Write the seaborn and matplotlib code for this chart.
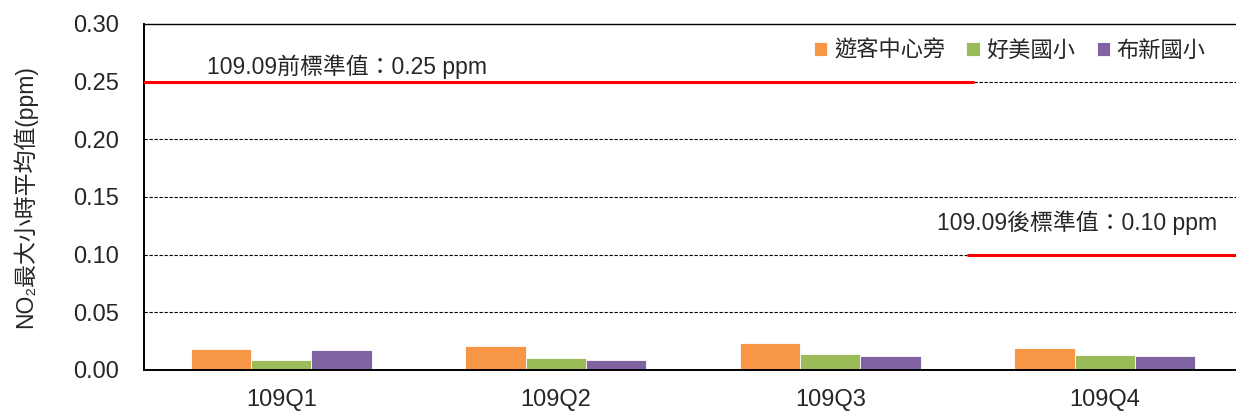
import numpy as np
import pandas as pd
import seaborn as sns
import matplotlib.pyplot as plt

quarters = ["109Q1", "109Q2", "109Q3", "109Q4"]
stations = ["遊客中心旁", "好美國小", "布新國小"]
visitor_center = [0.018, 0.021, 0.023, 0.019]
haomei = [0.009, 0.010, 0.014, 0.013]
buxin = [0.017, 0.009, 0.012, 0.012]
old_standard = 0.25
new_standard = 0.10

colors = ["#F79646", "#9BBB59", "#8064A2"]

df = pd.DataFrame({
    "quarter": quarters * 3,
    "station": [s for s in stations for _ in quarters],
    "value": visitor_center + haomei + buxin,
})

sns.set_style("white")
plt.rcParams["font.family"] = ["Liberation Sans", "Noto Sans CJK TC", "DejaVu Sans"]

fig = plt.figure(figsize=(12.36, 4.12), dpi=100)
# axes runs a few pixels past the right edge, as in the original
ax = fig.add_axes([144 / 1236, 0.102, 1098 / 1236, 0.840])

sns.barplot(data=df, x="quarter", y="value", hue="station", palette=colors,
            saturation=1, width=0.66, edgecolor="white", linewidth=0.6, ax=ax)

ax.set_xlim(-0.5, 3.5)
ax.set_ylim(0, 0.30)
ax.set_yticks(np.arange(0, 0.301, 0.05))
ax.set_yticklabels([f"{v:.2f}" for v in np.arange(0, 0.301, 0.05)], fontsize=17)
ax.set_xticks(range(4))
ax.set_xticklabels(quarters, fontsize=17)
ax.set_xticks([0.5, 1.5, 2.5], minor=True)
ax.tick_params(axis="x", which="major", length=0, pad=14)
ax.tick_params(axis="x", which="minor", direction="in", length=5, width=1.2, color="black")
ax.tick_params(axis="y", length=0, pad=18)

for y in np.arange(0.05, 0.30, 0.05):
    ax.axhline(y, color="black", linestyle=(0, (3, 1.5)), linewidth=0.8, zorder=0)

ax.plot([-0.5, 2.52], [old_standard, old_standard], color="#FF0000", linewidth=2.2, zorder=3)
ax.plot([2.5, 3.5], [new_standard, new_standard], color="#FF0000", linewidth=2.2, zorder=3)
ax.text(-0.27, old_standard + 0.002, "109.09前標準值：0.25 ppm", fontsize=16.5, va="bottom")
ax.text(2.39, new_standard + 0.017, "109.09後標準值：0.10 ppm", fontsize=16.5, va="bottom")

for side in ["left", "bottom", "top"]:
    ax.spines[side].set_color("black")
    ax.spines[side].set_linewidth(1.4)
ax.spines["top"].set_linewidth(1.0)
ax.spines["right"].set_visible(False)

ax.set_xlabel("")
ax.set_ylabel("NO₂最大小時平均值(ppm)", fontsize=16.5, labelpad=26)

ax.legend(loc="upper right", bbox_to_anchor=(0.985, 1.01), ncol=3, frameon=False,
          fontsize=16, handlelength=0.6, handleheight=0.6, handletextpad=0.3,
          columnspacing=0.95)

fig.savefig("out.png", dpi=100)
